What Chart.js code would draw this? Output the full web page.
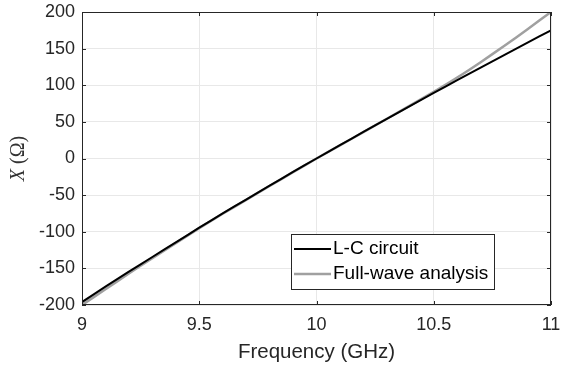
<!DOCTYPE html>
<html>
<head>
<meta charset="utf-8">
<script src="https://cdn.jsdelivr.net/npm/chart.js@4.4.0/dist/chart.umd.min.js"></script>
<style>
  html, body { margin: 0; padding: 0; background: #fff; }
  #wrap { width: 561px; height: 369px; }
</style>
</head>
<body>
<div id="wrap"><canvas id="grafik"></canvas></div>
<script>
// Frekuensi (GHz) dan reaktansi (Ohm)
const freq = [9.0, 9.1, 9.2, 9.3, 9.4, 9.5, 9.6, 9.7, 9.8, 9.9, 10.0,
              10.1, 10.2, 10.3, 10.4, 10.5, 10.6, 10.7, 10.8, 10.9, 11.0];
const lcCircuit = [-196, -175, -154.5, -134.5, -114.5, -94.5, -75, -56, -37.1, -18.4, 0,
                   18.2, 36.3, 54.2, 71.9, 89.5, 106.9, 124.2, 141.2, 158.2, 175];
const fullWave = [-200, -178.5, -157, -136, -115.5, -95, -75.5, -56.5, -37.5, -18.7, 0,
                  18, 36, 54.3, 72.5, 91, 110.5, 131.5, 153.5, 176.5, 200];
const xTicks = [9, 9.5, 10, 10.5, 11];
const yTicks = [-200, -150, -100, -50, 0, 50, 100, 150, 200];

const toPoints = vals => freq.map((f, i) => ({ x: f, y: vals[i] }));

// kotak sumbu, tick ke dalam, legenda di dalam area plot, dan label sumbu Y
const matlabLook = {
    id: 'matlabLook',
    afterDatasetsDraw(chart) {
        const c = chart.ctx;
        const a = chart.chartArea;
        const sx = chart.scales.x, sy = chart.scales.y;
        c.save();
        c.strokeStyle = '#262626';
        c.lineWidth = 1;
        c.beginPath();
        xTicks.forEach(v => {
            const px = Math.round(sx.getPixelForValue(v)) + 0.5;
            c.moveTo(px, a.bottom); c.lineTo(px, a.bottom - 4);
            c.moveTo(px, a.top); c.lineTo(px, a.top + 4);
        });
        yTicks.forEach(v => {
            const py = Math.round(sy.getPixelForValue(v)) + 0.5;
            c.moveTo(a.left, py); c.lineTo(a.left + 4, py);
            c.moveTo(a.right, py); c.lineTo(a.right - 4, py);
        });
        c.stroke();
        c.strokeRect(a.left + 0.5, a.top + 0.5, a.right - a.left - 1, a.bottom - a.top - 1);

        // legenda
        const bx = 291, by = 234, bw = 203, bh = 55;
        c.fillStyle = '#fff';
        c.fillRect(bx, by, bw, bh);
        c.strokeRect(bx + 0.5, by + 0.5, bw, bh);
        c.font = '19px "Liberation Sans", Arial, sans-serif';
        c.textBaseline = 'middle';
        chart.data.datasets.forEach((ds, i) => {
            const yy = by + 15 + i * 25;
            c.strokeStyle = ds.borderColor;
            c.lineWidth = ds.borderWidth;
            c.beginPath();
            c.moveTo(bx + 3, yy);
            c.lineTo(bx + 40, yy);
            c.stroke();
            c.fillStyle = '#000';
            c.fillText(ds.label, bx + 42, yy);
        });

        // label sumbu Y
        c.translate(19, (a.top + a.bottom) / 2);
        c.rotate(-Math.PI / 2);
        c.fillStyle = '#333';
        c.textBaseline = 'middle';
        const f1 = 'italic 20px "Liberation Serif", "Times New Roman", serif';
        const f2 = '20px "Liberation Serif", "Times New Roman", serif';
        c.font = f1;
        const w1 = c.measureText('X').width;
        c.font = f2;
        const w2 = c.measureText(' (Ω)').width;
        const x0 = -(w1 + w2) / 2;
        c.font = f1;
        c.fillText('X', x0, 0);
        c.font = f2;
        c.fillText(' (Ω)', x0 + w1, 0);
        c.restore();
    }
};

new Chart(document.getElementById('grafik'), {
    type: 'line',
    data: {
        datasets: [
            {
                label: 'L-C circuit',
                data: toPoints(lcCircuit),
                borderColor: '#000000',
                borderWidth: 2,
                pointRadius: 0,
                tension: 0.2,
                order: 1
            },
            {
                label: 'Full-wave analysis',
                data: toPoints(fullWave),
                borderColor: '#a0a0a0',
                borderWidth: 2.5,
                pointRadius: 0,
                tension: 0.2,
                order: 2
            }
        ]
    },
    options: {
        responsive: true,
        maintainAspectRatio: false,
        animation: false,
        layout: { padding: { left: 0, right: 10, top: 12, bottom: 0 } },
        plugins: {
            legend: { display: false },
            tooltip: { enabled: false }
        },
        scales: {
            x: {
                type: 'linear',
                min: 9,
                max: 11,
                afterBuildTicks: s => { s.ticks = xTicks.map(v => ({ value: v })); },
                afterFit: s => {
                    s.height = 64;
                    s.paddingLeft = 0; s.paddingRight = 0;
                },
                grid: { color: '#e8e8e8', drawTicks: false },
                border: { display: false },
                ticks: {
                    color: '#262626',
                    padding: 9,
                    callback: v => String(v),
                    font: { family: '"Liberation Sans", Arial, sans-serif', size: 18 }
                },
                title: {
                    display: true,
                    text: 'Frequency (GHz)',
                    color: '#262626',
                    padding: { top: 1 },
                    font: { family: '"Liberation Sans", Arial, sans-serif', size: 20.5 }
                }
            },
            y: {
                min: -200,
                max: 200,
                afterBuildTicks: s => { s.ticks = yTicks.map(v => ({ value: v })); },
                afterFit: s => {
                    s.width = 82;
                    s.paddingTop = 0; s.paddingBottom = 0;
                },
                grid: { color: '#e8e8e8', drawTicks: false },
                border: { display: false },
                ticks: {
                    color: '#262626',
                    padding: 7,
                    callback: v => String(v),
                    font: { family: '"Liberation Sans", Arial, sans-serif', size: 18 }
                }
            }
        }
    },
    plugins: [matlabLook]
});
</script>
</body>
</html>
